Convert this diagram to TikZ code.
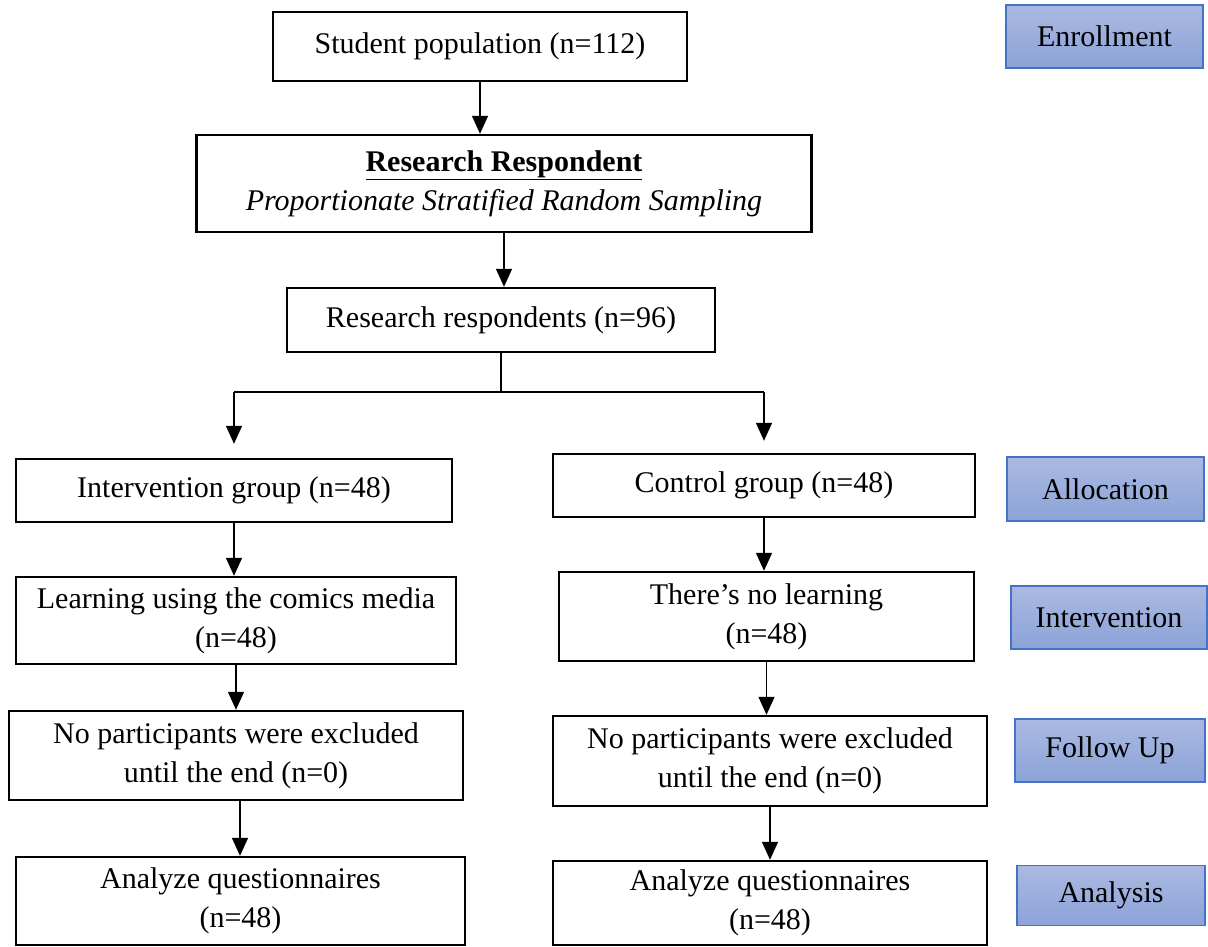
\documentclass[tikz,border=0pt]{standalone}
\usepackage{fontspec}
\setmainfont{Liberation Serif}
\usetikzlibrary{arrows.meta}
\definecolor{stageline}{HTML}{4472C4}
\definecolor{stagetop}{HTML}{AAB9E1}
\definecolor{stagebot}{HTML}{8CA3D8}
\begin{document}
\begin{tikzpicture}[x=1pt, y=-1pt,
    box/.style={draw=black, line width=2.4pt, fill=white, align=center, inner sep=0pt, font=\fontsize{30}{39}\selectfont},
    stage/.style={draw=stageline, line width=1.5pt, top color=stagetop, bottom color=stagebot, inner sep=0pt, font=\fontsize{30}{39}\selectfont},
    arr/.style={line width=1.4pt, -{Triangle[width=16pt,length=18pt]}},
    link/.style={line width=1.4pt}]
    \useasboundingbox (0,0) rectangle (1208,946);
    \node[box, minimum width=414pt, minimum height=69pt] (pop) at (480,46.5) {Student population (n=112)};
    \node[box, minimum width=615pt, minimum height=97pt] (resp) at (504,183.5) {\underline{\textbf{Research Respondent}}\\\textit{Proportionate Stratified Random Sampling}};
    \node[box, minimum width=428pt, minimum height=64pt] (sample) at (501,320) {Research respondents (n=96)};
    \node[box, minimum width=436pt, minimum height=63pt] (intgrp) at (234,490.5) {Intervention group (n=48)};
    \node[box, minimum width=440pt, minimum height=87pt] (comics) at (236,620.5) {Learning using the comics media\\(n=48)};
    \node[box, minimum width=454pt, minimum height=89pt] (exclA) at (236,755.5) {No participants were excluded\\until the end (n=0)};
    \node[box, minimum width=449pt, minimum height=88pt] (analA) at (240.5,901) {Analyze questionnaires\\(n=48)};
    \node[box, minimum width=422pt, minimum height=63pt] (ctrlgrp) at (764,485.5) {Control group (n=48)};
    \node[box, minimum width=415pt, minimum height=89pt] (nolearn) at (766.5,616.5) {There’s no learning\\(n=48)};
    \node[box, minimum width=434pt, minimum height=90pt] (exclB) at (770,761) {No participants were excluded\\until the end (n=0)};
    \node[box, minimum width=434pt, minimum height=84pt] (analB) at (770,903) {Analyze questionnaires\\(n=48)};
    \foreach \nm/\cx/\cy/\w/\h/\txt in {enroll/1104.5/36.5/197/63/Enrollment, alloc/1105.5/489/197/64/Allocation, interv/1109/617.5/196/63/Intervention, follow/1110/750.5/190/63/Follow Up, analysis/1111/895.5/188/60/Analysis} {
        \node[stage, minimum width=\w pt, minimum height=\h pt] (\nm) at (\cx,\cy) {\txt};
    }
    \draw[arr] (pop.south) -- (pop.south |- resp.north);
    \draw[arr] (resp.south) -- (resp.south |- sample.north);
    \coordinate (split) at (501,392);
    \coordinate (splitL) at (intgrp.north |- split);
    \coordinate (splitR) at (ctrlgrp.north |- split);
    \draw[link] (sample.south) -- (split);
    \draw[link] (splitL) -- (splitR);
    \draw[arr] (splitL) -- ([yshift=14pt]intgrp.north);
    \draw[arr] (splitR) -- ([yshift=12pt]ctrlgrp.north);
    \draw[arr] (intgrp.south) -- (intgrp.south |- comics.north);
    \draw[arr] (comics.south) -- (comics.south |- exclA.north);
    \draw[arr] ([xshift=4pt]exclA.south) -- ([xshift=4pt]exclA.south |- analA.north);
    \draw[arr] (ctrlgrp.south) -- (ctrlgrp.south |- nolearn.north);
    \draw[arr] (nolearn.south) -- (nolearn.south |- exclB.north);
    \draw[arr] (exclB.south) -- (exclB.south |- analB.north);
\end{tikzpicture}
\end{document}
